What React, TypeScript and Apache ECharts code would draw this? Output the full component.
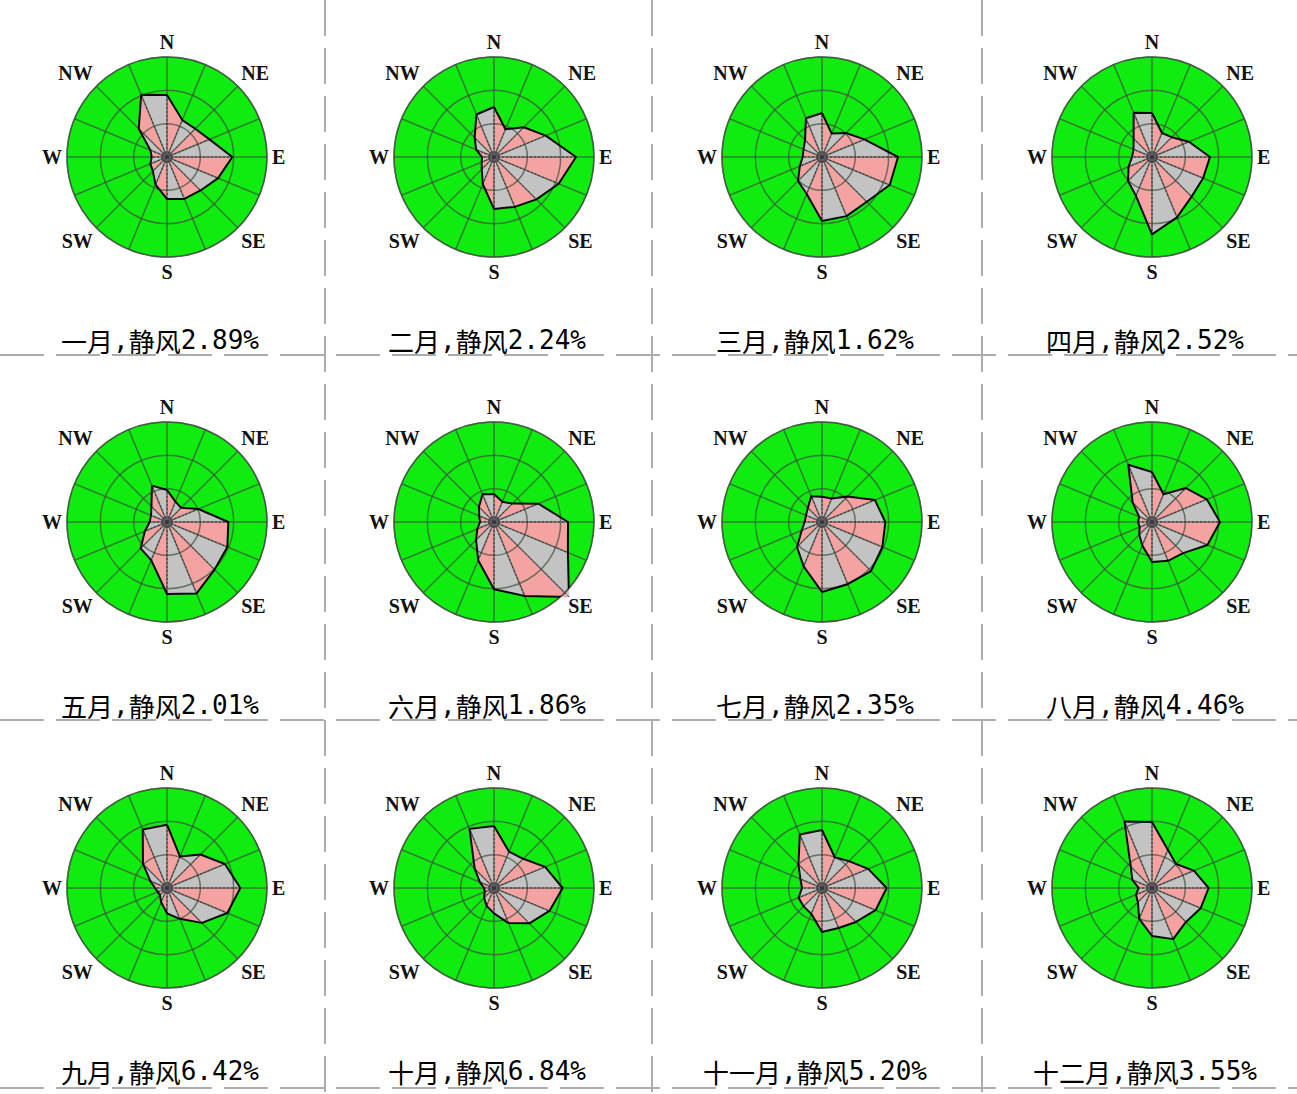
import React, { useEffect, useRef } from "react";
import * as echarts from "echarts";

// ---------- data ----------
const DIRECTIONS = ["N", "NNE", "NE", "ENE", "E", "ESE", "SE", "SSE", "S", "SSW", "SW", "WSW", "W", "WNW", "NW", "NNW"];
const AXIS_LABELS: Record<number, string> = { 0: "N", 45: "NE", 90: "E", 135: "SE", 180: "S", 225: "SW", 270: "W", 315: "NW" };
const MONTHS = ["一月", "二月", "三月", "四月", "五月", "六月", "七月", "八月", "九月", "十月", "十一月", "十二月"];
const CALM = ["2.89", "2.24", "1.62", "2.52", "2.01", "1.86", "2.35", "4.46", "6.42", "6.84", "5.20", "3.55"];

// wind frequency (%) for the 16 directions N, NNE, ..., NNW
const JAN = [9.3, 6.0, 6.0, 6.9, 9.8, 8.3, 7.1, 6.8, 6.3, 4.5, 3.0, 2.7, 2.3, 2.7, 6.0, 10.1];
const FEB = [7.5, 4.5, 6.3, 8.4, 12.3, 10.5, 9.0, 8.1, 7.8, 4.4, 2.6, 2.0, 1.8, 2.9, 4.1, 6.9];
const MAR = [6.6, 3.8, 5.1, 6.9, 11.4, 11.0, 9.5, 9.6, 9.6, 6.0, 5.1, 3.6, 2.9, 3.0, 3.6, 6.3];
const APR = [6.6, 3.9, 4.2, 6.0, 8.7, 8.3, 8.4, 9.8, 11.6, 6.3, 5.1, 3.8, 3.0, 3.0, 3.9, 7.2];
const MAY = [4.8, 3.3, 3.0, 5.1, 9.2, 9.8, 10.1, 11.6, 10.8, 6.2, 5.6, 3.6, 2.6, 2.6, 3.3, 5.9];
const JUN = [4.2, 3.3, 3.9, 7.2, 11.1, 12.0, 15.9, 12.0, 10.1, 6.2, 3.8, 2.7, 2.1, 2.4, 3.2, 4.5];
const JUL = [3.8, 3.8, 5.4, 8.6, 9.5, 9.8, 10.4, 10.1, 10.5, 7.2, 5.3, 3.3, 2.6, 2.6, 3.0, 4.2];
const AUG = [7.5, 4.5, 7.2, 8.9, 10.2, 9.0, 6.6, 6.3, 6.0, 3.8, 2.7, 2.0, 2.1, 2.1, 4.1, 9.3];
const SEP = [9.5, 5.1, 7.1, 9.4, 11.0, 9.8, 7.4, 5.0, 3.8, 2.3, 1.5, 1.5, 1.8, 2.7, 5.1, 9.5];
const OCT = [9.3, 5.9, 6.2, 8.3, 10.3, 9.0, 7.5, 5.7, 3.8, 2.9, 2.1, 1.5, 1.5, 2.3, 4.1, 9.6];
const NOV = [8.7, 5.0, 5.7, 7.5, 9.7, 8.7, 7.2, 6.5, 6.6, 4.2, 3.9, 3.8, 3.0, 3.5, 5.0, 8.7];
const DEC = [9.9, 6.2, 5.1, 6.8, 8.5, 7.9, 7.2, 8.3, 7.2, 5.0, 3.0, 2.6, 2.0, 3.2, 4.5, 10.8];
const MONTH_FREQ = [JAN, FEB, MAR, APR, MAY, JUN, JUL, AUG, SEP, OCT, NOV, DEC];

const RADIUS_MAX = 15;
const RADIUS_STEP = 5;

// ---------- layout / style ----------
const W = 1297;
const H = 1094;
const COL_X = [167, 494, 822, 1152];
const ROW_Y = [157, 522, 888];
const R = 100;
const TITLE_DY = 183;
const V_LINES = [325, 652, 982];
const H_LINES = [355, 720, 1088];

const GREEN = "#10ec10";
const GRID = "rgba(60,80,60,0.7)";
const PINK = "#f4a2a2";
const GRAY = "#c3c3c3";
const SEP_COLOR = "#acacac";

function buildOption() {
  const polar: any[] = [];
  const angleAxis: any[] = [];
  const radiusAxis: any[] = [];
  const series: any[] = [];
  const graphic: any[] = [];
  const step = 360 / DIRECTIONS.length;

  MONTHS.forEach((m, i) => {
    const cx = COL_X[i % 4];
    const cy = ROW_Y[Math.floor(i / 4)];
    const vals = MONTH_FREQ[i];
    polar.push({ center: [cx, cy], radius: R });
    angleAxis.push({
      polarIndex: i,
      type: "value",
      min: 0,
      max: 360,
      interval: step,
      startAngle: 90,
      clockwise: true,
      z: 5,
      axisLine: { show: true, lineStyle: { color: GRID, width: 1.5 } },
      axisTick: { show: false },
      axisLabel: {
        show: true,
        margin: 5,
        color: "#111",
        fontFamily: "Liberation Serif",
        fontWeight: "bold",
        fontSize: 20,
        formatter: (v: number) => {
          const k = Math.round(v);
          return Math.abs(v - k) < 1e-6 && AXIS_LABELS[k] !== undefined ? AXIS_LABELS[k] : "";
        },
      },
      splitLine: { show: true, lineStyle: { color: GRID, width: 1.5 } },
    });
    radiusAxis.push({
      polarIndex: i,
      type: "value",
      min: 0,
      max: RADIUS_MAX,
      interval: RADIUS_STEP,
      z: 5,
      axisLine: { show: false },
      axisTick: { show: false },
      axisLabel: { show: false },
      splitLine: { show: true, lineStyle: { color: GRID, width: 1.5 } },
    });

    // green disc
    series.push({
      type: "custom",
      coordinateSystem: "polar",
      polarIndex: i,
      z: 1,
      silent: true,
      encode: { radius: 0, angle: 1 },
      data: [[RADIUS_MAX, 0]],
      renderItem: (_p: any, api: any) => {
        const c = api.coord([0, 0]);
        const e = api.coord([api.value(0), api.value(1)]);
        const r = Math.hypot(e[0] - c[0], e[1] - c[1]);
        return { type: "circle", shape: { cx: c[0], cy: c[1], r }, style: { fill: GREEN } };
      },
    });

    const triData = vals.map((v, k) => [v, k * step, vals[(k + 1) % vals.length], (k + 1) * step]);
    // alternating triangles
    series.push({
      type: "custom",
      coordinateSystem: "polar",
      polarIndex: i,
      z: 2,
      silent: true,
      encode: { radius: 0, angle: 1 },
      data: triData,
      renderItem: (p: any, api: any) => {
        const c = api.coord([0, 0]);
        const p1 = api.coord([api.value(0), api.value(1)]);
        const p2 = api.coord([api.value(2), api.value(3)]);
        const fill = p.dataIndex % 2 === 0 ? PINK : GRAY;
        return {
          type: "polygon",
          shape: { points: [c, p1, p2] },
          style: { fill, stroke: fill, lineWidth: 0.6 },
        };
      },
    });
    // dashed spokes + centre dot
    series.push({
      type: "custom",
      coordinateSystem: "polar",
      polarIndex: i,
      z: 6,
      silent: true,
      encode: { radius: 0, angle: 1 },
      data: triData,
      renderItem: (p: any, api: any) => {
        const c = api.coord([0, 0]);
        const p1 = api.coord([api.value(0), api.value(1)]);
        const children: any[] = [
          {
            type: "line",
            shape: { x1: c[0], y1: c[1], x2: p1[0], y2: p1[1] },
            style: { stroke: "#3a3040", lineWidth: 1, lineDash: [2, 2] },
          },
        ];
        if (p.dataIndex === 0) {
          children.push({ type: "circle", shape: { cx: c[0], cy: c[1], r: 6 }, style: { fill: "#5e5e5e" } });
        }
        return { type: "group", children };
      },
    });
    // outline
    const outline = vals.map((v, k) => [v, k * step]);
    outline.push([vals[0], 360]);
    series.push({
      type: "line",
      coordinateSystem: "polar",
      polarIndex: i,
      z: 7,
      silent: true,
      showSymbol: false,
      symbol: "none",
      data: outline,
      lineStyle: { color: "#0a0a0a", width: 2 },
    });

    graphic.push({
      type: "text",
      silent: true,
      style: {
        x: cx - 7,
        y: cy + TITLE_DY,
        text: `{a|${m}}{b|,}{a|静风}{b|${CALM[i]}%}`,
        align: "center",
        textAlign: "center",
        verticalAlign: "middle",
        textVerticalAlign: "middle",
        rich: {
          a: { fontFamily: "Noto Sans CJK SC", fontSize: 26, fill: "#000", color: "#000" },
          b: { fontFamily: "DejaVu Sans Mono", fontSize: 26, fill: "#000", color: "#000" },
        },
      },
    });
  });

  V_LINES.forEach((x) =>
    graphic.push({
      type: "line",
      silent: true,
      shape: { x1: x, y1: 0, x2: x, y2: H },
      style: { stroke: SEP_COLOR, lineWidth: 2, lineDash: [36, 12] },
    })
  );
  H_LINES.forEach((y) =>
    graphic.push({
      type: "line",
      silent: true,
      shape: { x1: 0, y1: y, x2: W, y2: y },
      style: { stroke: SEP_COLOR, lineWidth: 2, lineDash: [44, 12] },
    })
  );

  return {
    animation: false,
    backgroundColor: "#ffffff",
    polar,
    angleAxis,
    radiusAxis,
    series,
    graphic,
  };
}

export default function App() {
  const ref = useRef<HTMLDivElement>(null);
  useEffect(() => {
    if (!ref.current) return;
    const chart = echarts.init(ref.current, undefined, { renderer: "svg" });
    chart.setOption(buildOption() as any);
    return () => chart.dispose();
  }, []);
  return <div ref={ref} style={{ position: "absolute", left: 0, top: 0, width: W, height: H }} />;
}
